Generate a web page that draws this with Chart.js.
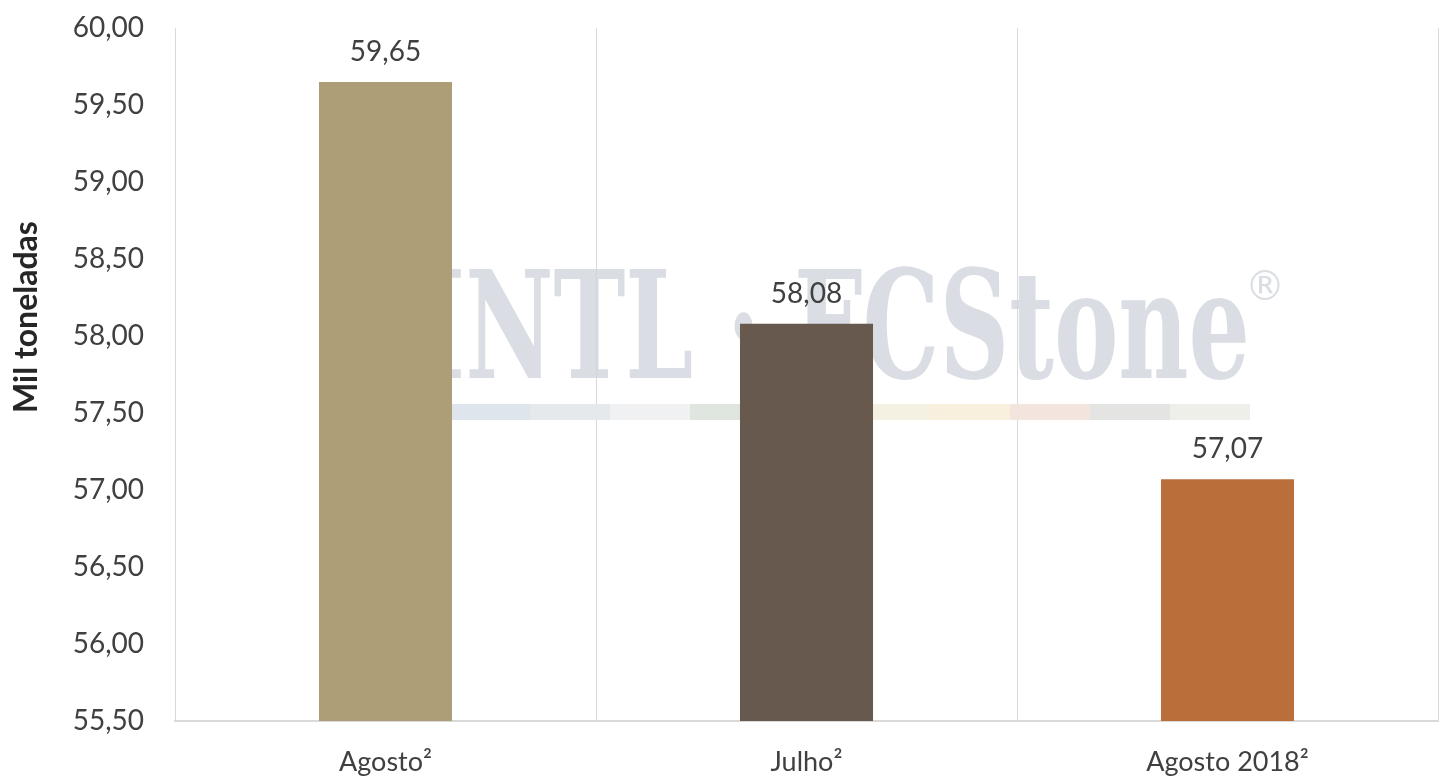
<!DOCTYPE html>
<html>
<head>
<meta charset="utf-8">
<script src="https://cdn.jsdelivr.net/npm/chart.js@4"></script>
<style>
  html, body { margin: 0; padding: 0; background: #fff; }
  #wrap { width: 1447px; height: 776px; }
</style>
</head>
<body>
<div id="wrap"><canvas id="myChart" width="1447" height="776"></canvas></div>
<script>
const categories = ['Agosto²', 'Julho²', 'Agosto 2018²'];
const values = [59.65, 58.08, 57.07];
const barColors = ['#AD9E77', '#67594D', '#BA6F3B'];
const yMin = 55.5;
const yMax = 60;
const yStep = 0.5;
const yTitle = 'Mil toneladas';

const fmt = v => v.toFixed(2).replace('.', ',');

//Faint logo behind the bars
const watermark = {
  id: 'watermark',
  beforeDatasetsDraw(chart) {
    const ctx = chart.ctx;
    ctx.save();
    ctx.fillStyle = 'rgba(205,209,218,0.75)';
    ctx.font = 'bold 150px "DejaVu Serif Condensed", "DejaVu Serif", serif';
    ctx.textBaseline = 'alphabetic';
    const txt = 'INTL · FCStone';
    const w = ctx.measureText(txt).width;
    ctx.translate(420, 378);
    ctx.scale(830 / w, 1);
    ctx.fillText(txt, 0, 0);
    ctx.restore();

    ctx.save();
    ctx.fillStyle = 'rgba(205,209,218,0.75)';
    ctx.font = '40px "DejaVu Sans", sans-serif';
    ctx.fillText('®', 1245, 300);
    const strip = ['#dfe5ec', '#e6e9ec', '#f0f1f2', '#dfe5df', '#eef0e8', '#f4f1e2', '#f8efdc', '#f3e4dd', '#e4e4e2', '#efefe9'];
    strip.forEach((c, i) => {
      ctx.fillStyle = c;
      ctx.fillRect(450 + i * 80, 404, 80, 16);
    });
    ctx.restore();
  }
};

//Value labels above bars + axis title
const valueLabels = {
  id: 'valueLabels',
  afterDatasetsDraw(chart) {
    const ctx = chart.ctx;
    const meta = chart.getDatasetMeta(0);
    ctx.save();
    ctx.fillStyle = '#404040';
    ctx.font = '28px Lato, "Open Sans", sans-serif';
    ctx.textAlign = 'center';
    ctx.textBaseline = 'middle';
    meta.data.forEach((bar, i) => {
      ctx.fillText(fmt(values[i]), bar.x, bar.y - 30);
    });
    ctx.restore();

    ctx.save();
    ctx.fillStyle = '#262626';
    ctx.font = 'bold 32px Lato, "Open Sans", sans-serif';
    ctx.textAlign = 'center';
    ctx.textBaseline = 'middle';
    ctx.translate(27, 317);
    ctx.rotate(-Math.PI / 2);
    ctx.fillText(yTitle, 0, 0);
    ctx.restore();
  }
};

const data = {
  labels: categories,
  datasets: [{
    data: values,
    backgroundColor: barColors,
    borderWidth: 0,
    barPercentage: 0.316,
    categoryPercentage: 1
  }]
};

const config = {
  type: 'bar',
  data: data,
  plugins: [watermark, valueLabels],
  options: {
    responsive: false,
    animation: false,
    layout: { padding: { top: 0, right: 9, left: 0, bottom: 0 } },
    plugins: {
      legend: { display: false },
      tooltip: { enabled: false }
    },
    scales: {
      x: {
        grid: { display: true, offset: true, color: '#d9d9d9', lineWidth: 1, drawTicks: false },
        border: { display: true, color: '#d9d9d9', width: 2 },
        ticks: {
          color: '#404040',
          padding: 25,
          font: { family: 'Lato, "Open Sans", sans-serif', size: 27 }
        },
        afterFit: scale => { scale.height = 55; }
      },
      y: {
        min: yMin,
        max: yMax,
        grid: { display: false },
        border: { display: true, color: '#d9d9d9', width: 1 },
        ticks: {
          stepSize: yStep,
          color: '#404040',
          padding: 23,
          font: { family: 'Lato, "Open Sans", sans-serif', size: 28, lineHeight: 1 },
          callback: v => fmt(v)
        },
        afterFit: scale => {
          scale.width = 175;
          scale.paddingTop = 28;
        }
      }
    }
  }
};

const myChart = new Chart(document.getElementById('myChart'), config);
</script>
</body>
</html>
